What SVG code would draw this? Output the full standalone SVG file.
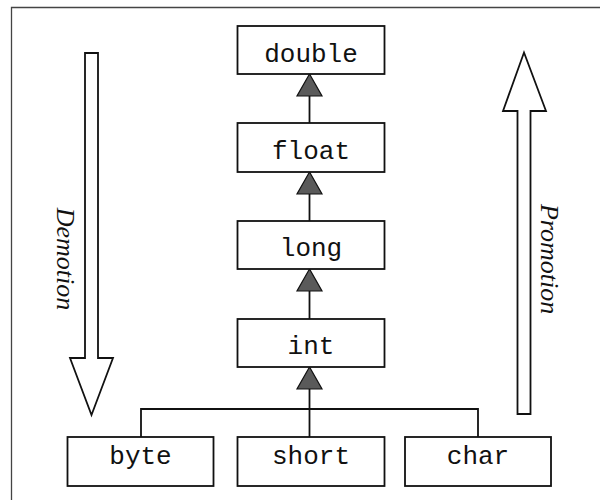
<svg xmlns="http://www.w3.org/2000/svg" width="600" height="500" viewBox="0 0 600 500">
<defs>
<style>
.box{fill:#fff;stroke:#111;stroke-width:1.8}
.lbl{font-family:"Liberation Mono","Courier New",monospace;font-size:26px;fill:#111;text-anchor:middle}
.conn{stroke:#111;stroke-width:1.8;fill:none}
.tri{fill:#5a5a5a;stroke:#111;stroke-width:1.2}
.big{fill:#fff;stroke:#111;stroke-width:1.8}
.side{font-family:"Liberation Serif","Times New Roman",serif;font-style:italic;font-size:26px;fill:#111;text-anchor:middle}
.frame{stroke:#444;stroke-width:1.3;fill:none}
</style>
</defs>
<rect width="600" height="500" fill="#fff"/>
<path class="frame" d="M11.5,500 V7.5 H600"/>

<g id="connectors">
<line class="conn" x1="309.5" y1="96" x2="309.5" y2="123"/>
<line class="conn" x1="309.5" y1="194" x2="309.5" y2="221"/>
<line class="conn" x1="309.5" y1="291" x2="309.5" y2="319"/>
<line class="conn" x1="309.5" y1="389" x2="309.5" y2="437"/>
<path class="conn" d="M141,437 V409 H478 V437"/>
<polygon class="tri" points="309.5,74 297,96 322,96"/>
<polygon class="tri" points="309.5,172 297,194 322,194"/>
<polygon class="tri" points="309.5,269 297,291 322,291"/>
<polygon class="tri" points="309.5,367 297,389 322,389"/>
</g>

<g id="double"><rect class="box" x="237.5" y="26" width="147" height="48"/><text class="lbl" x="311" y="62">double</text></g>
<g id="float"><rect class="box" x="237.5" y="123" width="147" height="49"/><text class="lbl" x="311" y="159">float</text></g>
<g id="long"><rect class="box" x="237.5" y="221" width="147" height="48"/><text class="lbl" x="311" y="256">long</text></g>
<g id="int"><rect class="box" x="237.5" y="319" width="147" height="48"/><text class="lbl" x="311" y="354">int</text></g>
<g id="byte"><rect class="box" x="67.5" y="437" width="146" height="49"/><text class="lbl" x="140.5" y="464">byte</text></g>
<g id="short"><rect class="box" x="237.5" y="437" width="147" height="49"/><text class="lbl" x="311" y="464">short</text></g>
<g id="char"><rect class="box" x="405" y="437" width="146" height="49"/><text class="lbl" x="478" y="464">char</text></g>

<g id="demotion">
<polygon class="big" points="85,53 98,53 98,358 113,358 91.5,415 70,358 85,358"/>
<text class="side" transform="translate(57,259) rotate(90)">Demotion</text>
</g>
<g id="promotion">
<polygon class="big" points="524,52.5 546,111 530.5,111 530.5,414 517.5,414 517.5,111 503,111"/>
<text class="side" transform="translate(541,259) rotate(90)">Promotion</text>
</g>
</svg>
